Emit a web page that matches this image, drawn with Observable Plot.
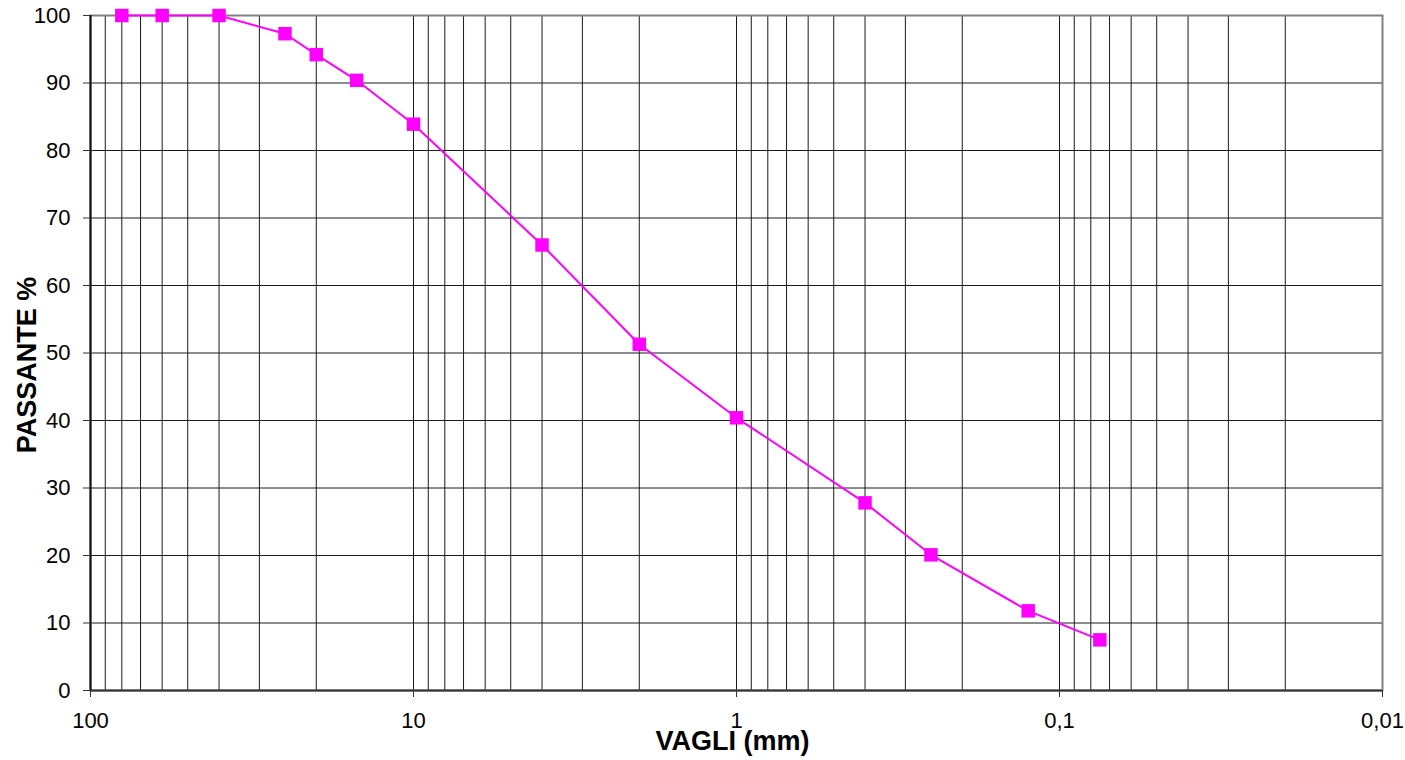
<!DOCTYPE html>
<html>
<head>
<meta charset="utf-8">
<script src="https://cdn.jsdelivr.net/npm/d3@7"></script>
<script src="https://cdn.jsdelivr.net/npm/@observablehq/plot@0.6"></script>
<style>
  html, body { margin: 0; padding: 0; background: #fff; }
  #chart svg { display: block; }
</style>
</head>
<body>
<div id="chart"></div>
<script>
// Sieve sizes (mm) and passing percentages
const sieves = [80, 60, 40, 25, 20, 15, 10, 4, 2, 1, 0.4, 0.25, 0.125, 0.075];
const passing = [100, 100, 100, 97.3, 94.2, 90.4, 83.9, 66.0, 51.3, 40.4, 27.8, 20.1, 11.8, 7.5];

// Axis ticks and grid
const xTicks = [100, 10, 1, 0.1, 0.01];
const xTickLabels = ["100", "10", "1", "0,1", "0,01"];
const yTicks = [0, 10, 20, 30, 40, 50, 60, 70, 80, 90, 100];
const gridX = [
  90, 80, 70, 60, 50, 40, 30, 20, 10,
  9, 8, 7, 6, 5, 4, 3, 2, 1,
  0.9, 0.8, 0.7, 0.6, 0.5, 0.4, 0.3, 0.2, 0.1,
  0.09, 0.08, 0.07, 0.06, 0.05, 0.04, 0.03, 0.02
];
const gridY = [10, 20, 30, 40, 50, 60, 70, 80, 90, 100];
const xTitle = "VAGLI (mm)";
const yTitle = "PASSANTE %";

const data = sieves.map((s, i) => ({ size: s, pass: passing[i] }));
const xLabelData = xTicks.map((v, i) => ({ v, label: xTickLabels[i] }));

const chart = Plot.plot({
  width: 1405,
  height: 760,
  marginLeft: 90,
  marginRight: 23,
  marginTop: 15,
  marginBottom: 70,
  style: { fontFamily: "'Liberation Sans', Arial, sans-serif", fontSize: "22px", color: "#000", background: "#fff" },
  x: { type: "log", domain: [100, 0.01] },
  y: { domain: [0, 100] },
  marks: [
    Plot.ruleX(gridX, { stroke: "#1a1a1a", strokeWidth: 1 }),
    Plot.ruleY(gridY, { stroke: "#1a1a1a", strokeWidth: 1 }),
    Plot.frame({ stroke: "#808080", strokeWidth: 2 }),
    Plot.ruleY([0], { stroke: "#333", strokeWidth: 2 }),
    Plot.ruleX([100], { stroke: "#111", strokeWidth: 2 }),
    Plot.axisX({ ticks: xTicks, tickFormat: () => "", tickSize: 7, label: null, stroke: "#333" }),
    Plot.axisY({ ticks: yTicks, tickFormat: () => "", tickSize: 7, label: null, stroke: "#333" }),
    Plot.text(xLabelData, { x: "v", text: "label", frameAnchor: "bottom", textAnchor: "middle", lineAnchor: "middle", dy: 30, fontSize: 22, fill: "#000" }),
    Plot.text(yTicks, { y: d => d, text: d => String(d), frameAnchor: "left", textAnchor: "end", lineAnchor: "middle", dx: -20, fontSize: 22, fill: "#000" }),
    Plot.text([xTitle], { text: d => d, frameAnchor: "bottom", textAnchor: "middle", lineAnchor: "middle", dx: -4, dy: 51, fontSize: 27, fontWeight: "bold", fill: "#000" }),
    Plot.text([yTitle], { text: d => d, frameAnchor: "left", textAnchor: "middle", lineAnchor: "middle", dx: -63, dy: 12, rotate: -90, fontSize: 27, fontWeight: "bold", fill: "#000" }),
    Plot.line(data, { x: "size", y: "pass", stroke: "#FF00FF", strokeWidth: 2 }),
    Plot.dot(data, { x: "size", y: "pass", symbol: "square", r: 7.6, fill: "#FF00FF", stroke: "none" })
  ]
});
document.getElementById("chart").appendChild(chart);
</script>
</body>
</html>
